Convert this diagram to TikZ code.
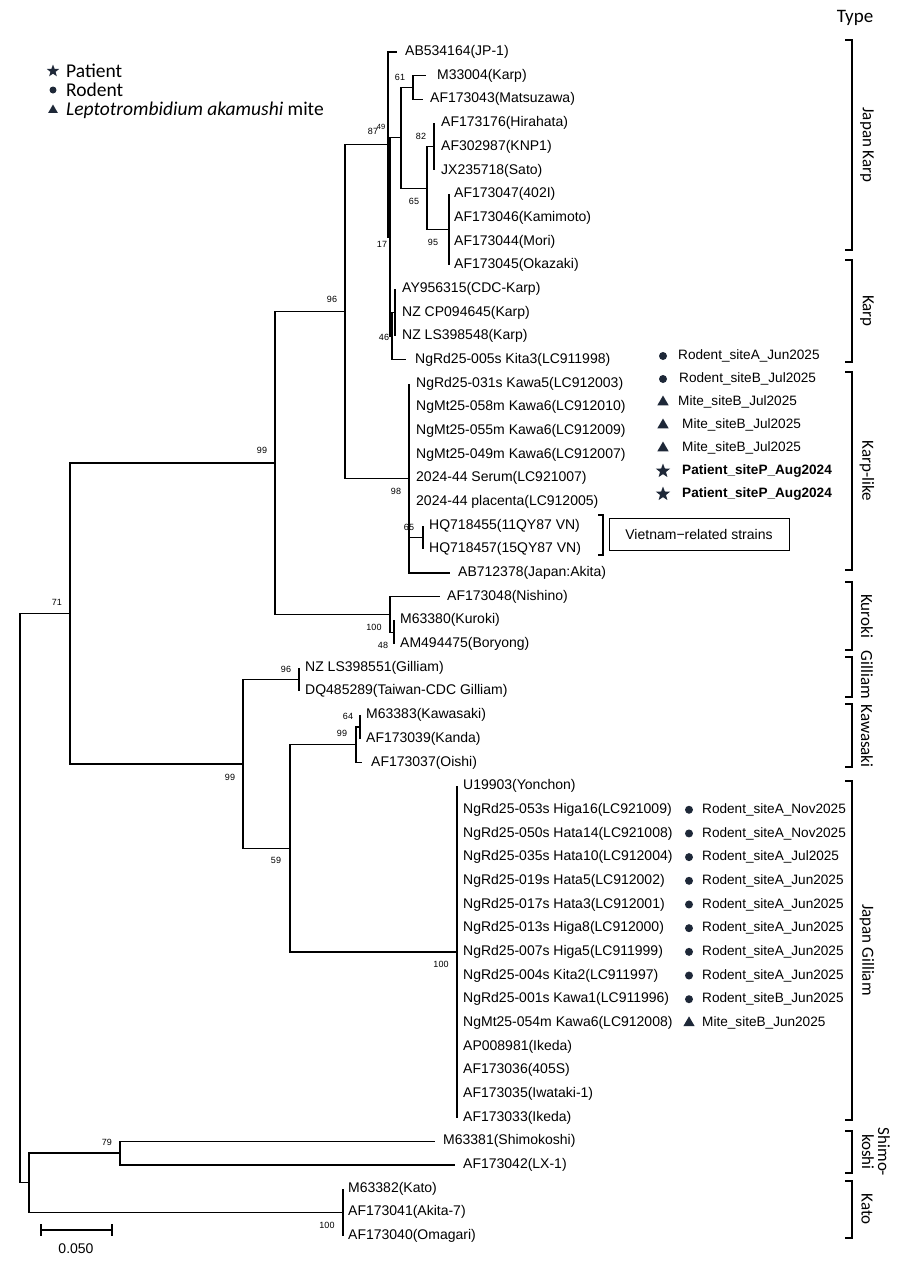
\documentclass[tikz,border=0pt]{standalone}
\usepackage{fontspec}
\setmainfont{Liberation Sans}
\newfontfamily\calibri{Carlito}
\usetikzlibrary{positioning, shapes.geometric}

\definecolor{symb}{RGB}{30,40,56}

% y of leaf row #1 (rows are 23.68 apart)
\newcommand{\RowY}[1]{52+23.68*(#1-1)}

\begin{document}
\begin{tikzpicture}[
    x=1pt, y=-1pt,
    every node/.style={inner sep=0pt},
    branch/.style={line width=1.3pt},
    leaf/.style={anchor=west, font=\fontsize{14}{16}\selectfont},
    boot/.style={font=\fontsize{9}{10}\selectfont},
    note/.style={anchor=west, font=\fontsize{13.6}{16}\selectfont},
    rodent/.style={circle, fill=symb, minimum size=8pt},
    mite/.style={regular polygon, regular polygon sides=3, fill=symb, minimum size=13pt},
    patient/.style={star, star points=5, star point ratio=2.4, fill=symb, minimum size=15pt},
    typebar/.style={line width=1.3pt},
    typename/.style={rotate=-90, align=center, font=\calibri\fontsize{17}{16}\selectfont}
]
\useasboundingbox (0,0) rectangle (900,1269);

% Internal nodes of the tree
\coordinate (root)  at (20,898);
\coordinate (n71)   at (70,613.39);
\coordinate (n99a)  at (275,462.9);
\coordinate (n96)   at (345,311.4);
\coordinate (n87)   at (388,144.5);
\coordinate (n17)   at (390,237);
\coordinate (n49)   at (401,137.84);
\coordinate (n61)   at (413,87.52);
\coordinate (n65)   at (427,188.16);
\coordinate (n82)   at (434,146.72);
\coordinate (n95)   at (449,229.6);
\coordinate (n46)   at (392,336.16);
\coordinate (nq)    at (395,312.48);
\coordinate (n98)   at (409,478.24);
\coordinate (nhq)   at (423,537.44);
\coordinate (nku)   at (390,614.4);
\coordinate (n48)   at (394,632.16);
\coordinate (n99b)  at (243,763.88);
\coordinate (ngi)   at (299,679.52);
\coordinate (n59)   at (290,848.24);
\coordinate (nk99)  at (356,744.64);
\coordinate (nk64)  at (360,726.88);
\coordinate (njg)   at (457,951.84);
\coordinate (n29)   at (29,1182.72);
\coordinate (ns79)  at (120,1153.12);
\coordinate (nkato) at (343,1212.32);

% Leaves: row / tip x / label x / parent / name
\foreach \r/\tx/\lx/\up/\name in {
    1/397/405/n87/AB534164(JP-1),
    2/426/437/n61/M33004(Karp),
    3/423/430/n61/AF173043(Matsuzawa),
    4/434/441/n82/AF173176(Hirahata),
    5/434/441/n82/AF302987(KNP1),
    6/434/441/n82/JX235718(Sato),
    7/449/454/n95/AF173047(402I),
    8/449/454/n95/AF173046(Kamimoto),
    9/449/454/n95/AF173044(Mori),
    10/449/454/n95/AF173045(Okazaki),
    11/395/402/nq/AY956315(CDC-Karp),
    12/395/402/nq/NZ CP094645(Karp),
    13/395/402/nq/NZ LS398548(Karp),
    14/406/415/n46/NgRd25-005s Kita3(LC911998),
    15/409/416/n98/NgRd25-031s Kawa5(LC912003),
    16/409/416/n98/NgMt25-058m Kawa6(LC912010),
    17/409/416/n98/NgMt25-055m Kawa6(LC912009),
    18/409/416/n98/NgMt25-049m Kawa6(LC912007),
    19/409/416/n98/2024-44 Serum(LC921007),
    20/409/416/n98/2024-44 placenta(LC912005),
    21/423/429/nhq/HQ718455(11QY87 VN),
    22/423/429/nhq/HQ718457(15QY87 VN),
    23/450/458/n98/AB712378(Japan:Akita),
    24/440/447/nku/AF173048(Nishino),
    25/394/400/n48/M63380(Kuroki),
    26/394/400/n48/AM494475(Boryong),
    27/299/305/ngi/NZ LS398551(Gilliam),
    28/299/305/ngi/DQ485289(Taiwan-CDC Gilliam),
    29/360/366/nk64/M63383(Kawasaki),
    30/360/366/nk64/AF173039(Kanda),
    31/362/371/nk99/AF173037(Oishi),
    32/457/463/njg/U19903(Yonchon),
    33/457/463/njg/NgRd25-053s Higa16(LC921009),
    34/457/463/njg/NgRd25-050s Hata14(LC921008),
    35/457/463/njg/NgRd25-035s Hata10(LC912004),
    36/457/463/njg/NgRd25-019s Hata5(LC912002),
    37/457/463/njg/NgRd25-017s Hata3(LC912001),
    38/457/463/njg/NgRd25-013s Higa8(LC912000),
    39/457/463/njg/NgRd25-007s Higa5(LC911999),
    40/457/463/njg/NgRd25-004s Kita2(LC911997),
    41/457/463/njg/NgRd25-001s Kawa1(LC911996),
    42/457/463/njg/NgMt25-054m Kawa6(LC912008),
    43/457/463/njg/AP008981(Ikeda),
    44/457/463/njg/AF173036(405S),
    45/457/463/njg/AF173035(Iwataki-1),
    46/457/463/njg/AF173033(Ikeda),
    47/435/443/ns79/M63381(Shimokoshi),
    48/455/463/ns79/AF173042(LX-1),
    49/343/348/nkato/M63382(Kato),
    50/343/348/nkato/AF173041(Akita-7),
    51/343/348/nkato/AF173040(Omagari)}{
    \coordinate (t-\r) at (\tx,{\RowY{\r}});
    \node[leaf] (leaf-\r) at (\lx,{\RowY{\r}}) {\name};
    \draw[branch] (\up) |- (t-\r);
}

% Branches between internal nodes
\foreach \p/\c in {root/n71, root/n29, n71/n99a, n71/n99b, n99a/n96, n99a/nku,
    n96/n87, n96/n98, n87/n17, n17/n49, n17/n46, n49/n61, n49/n65, n65/n82,
    n65/n95, n46/nq, n98/nhq, nku/n48, n99b/ngi, n99b/n59, n59/nk99, n59/njg,
    nk99/nk64, n29/ns79, n29/nkato}{
    \draw[branch] (\p) |- (\c);
}

% Bootstrap values
\foreach \bx/\by/\bv [count=\k] in {373/131/87, 400/77/61, 421/136/82, 414/201/65,
    433/242/95, 382/244/17, 384/337/46, 332/299/96, 396/491/98, 409/527/65,
    262/450/99, 374/627/100, 383/645/48, 57/602/71, 286/669/96, 348/716/64,
    342/733/99, 230/777/99, 276/860/59, 441/964/100, 107/1142/79, 327/1225/100}{
    \node[boot] (bs-\k) at (\bx,\by) {\bv};
}
\node[boot, font=\fontsize{7.5}{8}\selectfont] (bs-49) at (381,127) {49};

% Scale bar
\coordinate (sb-l) at (41,1230);
\coordinate (sb-r) at (112,1230);
\draw[branch] (sb-l) -- (sb-r);
\draw[branch] ([yshift=6pt]sb-l) -- ([yshift=-6pt]sb-l);
\draw[branch] ([yshift=6pt]sb-r) -- ([yshift=-6pt]sb-r);
\node[font=\fontsize{14}{16}\selectfont] (sb-text) at (76,1249) {0.050};

% Legend
\node[patient, minimum size=13pt] (lg-p) at (53,71) {};
\node[rodent, minimum size=7pt] (lg-r) at (53,90) {};
\node[mite, minimum size=11pt] (lg-m) at (53,110) {};
\node[anchor=west, font=\calibri\fontsize{19.5}{20}\selectfont] (lg-pt) at (66,71) {Patient};
\node[anchor=west, font=\calibri\fontsize{19.5}{20}\selectfont] (lg-rt) at (66,90) {Rodent};
\node[anchor=west, font=\calibri\fontsize{19.5}{20}\selectfont] (lg-mt) at (66,110) {\textit{Leptotrombidium akamushi} mite};

% Sample notes, Karp and Karp-like
\foreach \ay/\sym/\ax/\txt [count=\k] in {
    356/rodent/678/Rodent\_siteA\_Jun2025,
    379/rodent/679/Rodent\_siteB\_Jul2025,
    402/mite/678/Mite\_siteB\_Jul2025,
    425/mite/682/Mite\_siteB\_Jul2025,
    448/mite/682/Mite\_siteB\_Jul2025,
    471/patient/682/\textbf{Patient\_siteP\_Aug2024},
    494/patient/682/\textbf{Patient\_siteP\_Aug2024}}{
    \node[\sym] (mk-a\k) at (663,\ay) {};
    \node[note] (nt-a\k) at (\ax,\ay) {\txt};
}

% Sample notes, Japan Gilliam
\foreach \r/\sym/\txt in {
    33/rodent/Rodent\_siteA\_Nov2025,
    34/rodent/Rodent\_siteA\_Nov2025,
    35/rodent/Rodent\_siteA\_Jul2025,
    36/rodent/Rodent\_siteA\_Jun2025,
    37/rodent/Rodent\_siteA\_Jun2025,
    38/rodent/Rodent\_siteA\_Jun2025,
    39/rodent/Rodent\_siteA\_Jun2025,
    40/rodent/Rodent\_siteA\_Jun2025,
    41/rodent/Rodent\_siteB\_Jun2025,
    42/mite/Mite\_siteB\_Jun2025}{
    \node[\sym] (mk-\r) at (689,{\RowY{\r}}) {};
    \node[note] (nt-\r) at (702,{\RowY{\r}}) {\txt};
}

% Vietnam-related strains
\draw[typebar, line width=1.1pt] (598,515) -- (603,515) -- (603,555) -- (598,555);
\node[draw, line width=1pt, minimum width=180pt, minimum height=32pt,
    font=\fontsize{14}{16}\selectfont] (vnbox) at (699,534) {Vietnam−related strains};

% Type brackets
\node[font=\calibri\fontsize{19}{20}\selectfont] (type) at (855,18) {Type};
\foreach \tp/\bt/\name/\tx/\ty [count=\k] in {40/250/Japan Karp/867/145,
    260/362/Karp/867/311, 372/570/Karp-like/867/471, 582/650/Kuroki/867/616,
    657/697/Gilliam/867/675, 704/767/Kawasaki/867/736,
    781/1120/Japan Gilliam/867/950, 1131/1173/Shimo-\\koshi/876/1152,
    1181/1238/Kato/867/1209}{
    \draw[typebar] (845,\tp) -- (852,\tp) -- (852,\bt) -- (845,\bt);
    \node[typename] (ty-\k) at (\tx,\ty) {\name};
}

\end{tikzpicture}
\end{document}
